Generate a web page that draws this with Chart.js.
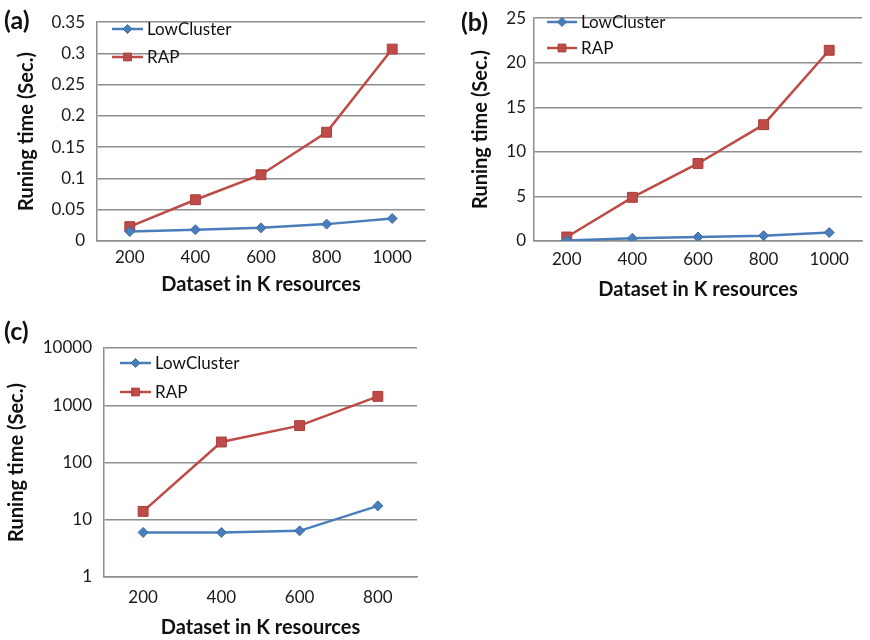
<!DOCTYPE html>
<html>
<head>
<meta charset="utf-8">
<script src="https://cdn.jsdelivr.net/npm/chart.js@4.4.1/dist/chart.umd.min.js"></script>
<style>
  body { margin: 0; background: #fff; }
  #wrap { position: relative; width: 870px; height: 640px; overflow: hidden; }
  canvas { position: absolute; }
  .tag { position: absolute; font: bold 25px Lato, sans-serif; color: #111; }
</style>
</head>
<body>
<div id="wrap">
  <canvas id="chartA" width="440" height="300" style="left:0;top:0"></canvas>
  <canvas id="chartB" width="430" height="300" style="left:440px;top:0"></canvas>
  <canvas id="chartC" width="440" height="330" style="left:0;top:310px"></canvas>
  <div class="tag" style="left:4px;top:4px">(a)</div>
  <div class="tag" style="left:461px;top:6px">(b)</div>
  <div class="tag" style="left:4px;top:315px">(c)</div>
</div>
<script>
console.log("charts | start");

// running times, panel (a)
var categoriesA = ['200', '400', '600', '800', '1000'];
var lowClusterA = [0.015, 0.018, 0.021, 0.027, 0.036];
var rapA = [0.023, 0.066, 0.106, 0.174, 0.307];

// panel (b)
var categoriesB = ['200', '400', '600', '800', '1000'];
var lowClusterB = [0.05, 0.3, 0.45, 0.6, 0.95];
var rapB = [0.45, 4.9, 8.7, 13.05, 21.4];

// panel (c), log scale
var categoriesC = ['200', '400', '600', '800'];
var lowClusterC = [6, 6, 6.4, 17.5];
var rapC = [14, 228, 441, 1430];
var ticksC = [1, 10, 100, 1000, 10000];

var seriesNames = ['LowCluster', 'RAP'];

var BLUE = '#4a7ebb';
var RED = '#be4b48';
var GRID = '#8e8e8e';
var FONT = 'Lato, sans-serif';

// legend drawn inside the plot, one entry per row
var innerLegend = {
	id: 'innerLegend',
	afterDraw: function(chart, args, opts) {
		var ctx = chart.ctx;
		ctx.save();
		ctx.font = opts.fontSize + 'px ' + FONT;
		ctx.textBaseline = 'middle';
		chart.data.datasets.forEach(function(ds, i) {
			var y = opts.y + i * opts.rowGap;
			ctx.strokeStyle = ds.borderColor;
			ctx.lineWidth = 2.5;
			ctx.beginPath();
			ctx.moveTo(opts.x, y);
			ctx.lineTo(opts.x + opts.lineLen, y);
			ctx.stroke();
			ctx.fillStyle = ds.backgroundColor;
			ctx.strokeStyle = ds.pointBorderColor;
			ctx.lineWidth = 1;
			Chart.helpers.drawPoint(ctx, {
				pointStyle: ds.pointStyle,
				radius: ds.pointStyle == 'rect' ? 5.5 : 4.5,
				borderWidth: 1
			}, opts.x + opts.lineLen / 2, y);
			ctx.fillStyle = '#111';
			ctx.fillText(ds.label, opts.x + opts.lineLen + 4, y + 1);
		});
		ctx.restore();
	}
};

function makeDatasets(low, rap) {
	return [
		{
			label: seriesNames[0],
			data: low,
			borderColor: BLUE,
			backgroundColor: BLUE,
			pointBorderColor: '#3d6ea8',
			borderWidth: 2.5,
			pointStyle: 'rectRot',
			pointRadius: 5,
			pointBorderWidth: 1
		},
		{
			label: seriesNames[1],
			data: rap,
			borderColor: RED,
			backgroundColor: RED,
			pointBorderColor: '#a83e3b',
			borderWidth: 2.5,
			pointStyle: 'rect',
			pointRadius: 7,
			pointBorderWidth: 1
		}
	];
}

function makeChart(id, labels, low, rap, cfg) {
	var yScale = {
		type: cfg.yType,
		min: cfg.yMin,
		max: cfg.yMax,
		grid: { color: GRID, lineWidth: 1.5, drawTicks: false },
		border: { color: GRID, width: 1.5 },
		ticks: {
			color: '#1a1a1a',
			font: { family: FONT, size: 17 },
			padding: cfg.yTickPad,
			callback: function(v) { return String(+Number(v).toFixed(2)); }
		},
		title: {
			display: true,
			text: 'Runing time (Sec.)',
			color: '#111',
			font: { family: FONT, size: 20, weight: 'bold', lineHeight: 1 },
			padding: { top: cfg.yTitlePad, bottom: 0 }
		},
		afterFit: function(s) { s.width = cfg.left; }
	};
	if (cfg.yStep) yScale.ticks.stepSize = cfg.yStep;
	if (cfg.yTicks) {
		yScale.afterBuildTicks = function(s) {
			s.ticks = cfg.yTicks.map(function(v) { return { value: v }; });
		};
	}

	return new Chart(document.getElementById(id), {
		type: 'line',
		data: { labels: labels, datasets: makeDatasets(low, rap) },
		options: {
			responsive: false,
			animation: false,
			layout: { padding: { top: cfg.top, right: cfg.right, left: 0, bottom: 0 } },
			plugins: {
				legend: { display: false },
				tooltip: { enabled: false },
				innerLegend: cfg.legend
			},
			elements: { line: { tension: 0 } },
			scales: {
				x: {
					offset: true,
					grid: { display: false, drawTicks: false },
					border: { color: GRID, width: 1.5 },
					ticks: {
						color: '#1a1a1a',
						font: { family: FONT, size: 17 },
						padding: cfg.xTickPad,
						maxRotation: 0
					},
					title: {
						display: true,
						text: 'Dataset in K resources',
						color: '#111',
						font: { family: FONT, size: 20, weight: 'bold', lineHeight: 1 },
						padding: { top: 0, bottom: cfg.xTitlePad }
					},
					afterFit: function(s) { s.height = cfg.bottom; }
				},
				y: yScale
			}
		},
		plugins: [innerLegend]
	});
}

makeChart('chartA', categoriesA, lowClusterA, rapA, {
	yType: 'linear', yMin: 0, yMax: 0.35, yStep: 0.05,
	left: 97, top: 13, right: 15, bottom: 59,
	yTickPad: 12, yTitlePad: 17, xTickPad: 6, xTitlePad: 5,
	legend: { x: 112, y: 29, rowGap: 28, lineLen: 31, fontSize: 17 }
});

makeChart('chartB', categoriesB, lowClusterB, rapB, {
	yType: 'linear', yMin: 0, yMax: 25, yStep: 5,
	left: 94, top: 13, right: 1, bottom: 59,
	yTickPad: 8, yTitlePad: 31, xTickPad: 8, xTitlePad: 0,
	legend: { x: 107, y: 22, rowGap: 26, lineLen: 30, fontSize: 17 }
});

makeChart('chartC', categoriesC, lowClusterC, rapC, {
	yType: 'logarithmic', yMin: 1, yMax: 10000, yTicks: ticksC,
	left: 104, top: 38, right: 23, bottom: 63,
	yTickPad: 12, yTitlePad: 7, xTickPad: 10, xTitlePad: 2,
	legend: { x: 120, y: 53, rowGap: 29, lineLen: 31, fontSize: 17 }
});
</script>
</body>
</html>
